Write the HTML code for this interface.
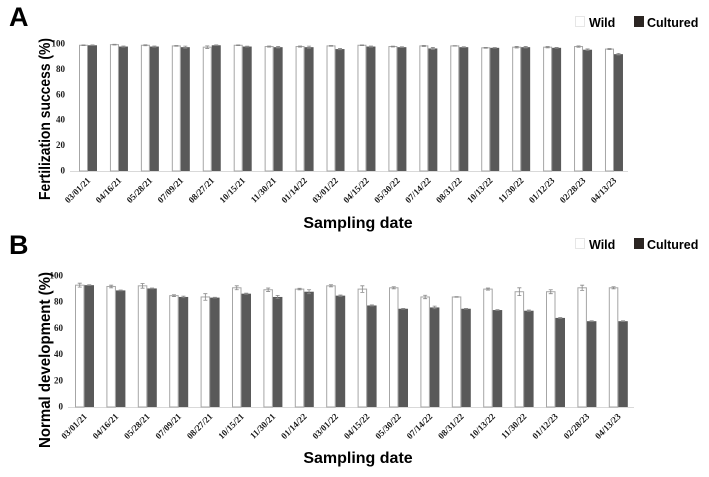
<!DOCTYPE html>
<html><head><meta charset="utf-8"><style>
body{margin:0;background:#fff;}
svg{display:block;}
.bt{font-family:"Liberation Sans",sans-serif;font-weight:bold;fill:#000;}
.tk{font-family:"Liberation Serif",serif;font-weight:bold;font-size:9px;fill:#1a1a1a;}
</style></head><body>
<svg id="s" width="709" height="477" xmlns="http://www.w3.org/2000/svg"></svg>
<script>
const categories=["03/01/21","04/16/21","05/28/21","07/09/21","08/27/21","10/15/21","11/30/21","01/14/22","03/01/22","04/15/22","05/30/22","07/14/22","08/31/22","10/13/22","11/30/22","01/12/23","02/28/23","04/13/23"];
const yTicks=[0,20,40,60,80,100];
const fertWild=[99,99.5,99,98.5,97.5,99,98,98,98.5,99,98,98.5,98.5,97,97.5,97.5,98,96];
const fertCult=[99,98,98,97.5,99,98,97.5,97.5,96,98,97.5,96.5,97.5,97,97.5,97,95.5,92];
const fertWildErr=[0.3,0.3,0.4,0.3,1,0.3,0.4,0.4,0.3,0.3,0.3,0.4,0.2,0.3,0.6,0.5,0.5,0.4];
const fertCultErr=[0.3,0.4,0.4,0.8,0.3,0.3,0.6,0.8,0.5,0.4,0.3,0.8,0.3,0.2,0.6,0.3,0.6,0.6];
const devWild=[93,92,92.5,85,84,91,89.5,90,92.5,90,91,84,84,90,88,88,91,91];
const devCult=[93,89,90.5,84,83.5,86.5,84,88,85,77.5,75,76,75,74,73.5,68,65.5,65.5];
const devWildErr=[1.5,1,1.8,0.7,2.5,1.5,1.3,0.6,0.8,2.5,0.8,1.3,0.2,0.8,3,1.5,2,0.8];
const devCultErr=[0.3,0.3,0.3,0.6,0.3,0.4,1.2,1.5,0.5,0.4,0.3,1,0.3,0.3,0.5,0.3,0.3,0.3];
const NS="http://www.w3.org/2000/svg";
const svg=document.getElementById('s');
function mk(tag,attrs,parent,text){const e=document.createElementNS(NS,tag);for(const k in attrs)e.setAttribute(k,attrs[k]);if(text!==undefined)e.textContent=text;(parent||svg).appendChild(e);return e;}
function panel(o){
  const g=mk('g',{});
  
  
  const y=v=>o.y0-(o.y0-o.y100)*v/100;
  const xw=i=>o.x0+i*o.step;
  const bw=o.bw;
  const ax=mk('line',{x1:o.axL,x2:o.axR,y1:o.y0+0.5,y2:o.y0+0.5,stroke:'#d9d9d9','stroke-width':1},g);
  
  
  yTicks.forEach(t=>{
    const tl=mk('text',{x:o.axL-5,y:y(t)+2.5,'text-anchor':'end',class:'tk','font-size':7},g,String(t));
    
    
  });
  categories.forEach((c,i)=>{
    const x=xw(i);
    const wv=o.wild[i],cv=o.cult[i];
    const r1=mk('rect',{x:x+0.5,y:y(wv),width:bw-1,height:y(0)-y(wv),fill:'#fff',stroke:'#a6a6a6','stroke-width':1},g);
    
    
    const r2=mk('rect',{x:x+bw,y:y(cv),width:bw,height:y(0)-y(cv),fill:'#595959'},g);
    
    
    [[x+bw/2,wv,o.we[i]],[x+bw*1.5,cv,o.ce[i]]].forEach(([cx,v,e])=>{
      const eb=mk('path',{d:`M${cx},${y(v+e)}V${y(v-e)}M${cx-2},${y(v+e)}h4M${cx-2},${y(v-e)}h4`,stroke:'#888','stroke-width':0.8,fill:'none'},g);
      
      
    });
    const cx=x+bw+3;
    const lb=mk('text',{x:cx,y:o.y0+10,'text-anchor':'end',class:'tk',transform:`rotate(-45 ${cx} ${o.y0+10})`},g,c);
    
    
  });
  const yt=mk('text',{x:0,y:0,'text-anchor':'middle',class:'bt','font-size':16,textLength:o.ylen,lengthAdjust:'spacingAndGlyphs',transform:`translate(${o.ytx},${o.yty}) rotate(-90)`},g,o.ytitle);
  
  
  const xt=mk('text',{x:358,y:o.xty,'text-anchor':'middle',class:'bt','font-size':16},g,'Sampling date');
  
  
  const pl=mk('text',{x:9,y:o.ply,class:'bt','font-size':27},g,o.letter);
  
  
  const lg=mk('g',{},g);
  
  
  const s1=mk('rect',{x:575.5,y:o.ly-10.5,width:9,height:10,fill:'#fff',stroke:'#e6e6e6'},lg);
  
  
  const t1=mk('text',{x:589,y:o.ly,class:'bt','font-size':12.5},lg,'Wild');
  
  
  const s2=mk('rect',{x:634,y:o.ly-11,width:10,height:11,fill:'#2b2522'},lg);
  
  
  const t2=mk('text',{x:647,y:o.ly,class:'bt','font-size':12.5},lg,'Cultured');
  
  
}
panel({name:'chart-fertilization',letter:'A',ply:26,y0:171,y100:44,x0:79,step:30.94,bw:9,axL:70,axR:628,wild:fertWild,cult:fertCult,we:fertWildErr,ce:fertCultErr,ytitle:'Fertilization success (%)',ytx:50,yty:119,ylen:162,xty:228,ly:27});
panel({name:'chart-development',letter:'B',ply:254,y0:407,y100:276,x0:75,step:31.4,bw:9.5,axL:68,axR:634,wild:devWild,cult:devCult,we:devWildErr,ce:devCultErr,ytitle:'Normal development (%)',ytx:50,yty:360,ylen:176,xty:463,ly:249});
</script>
</body></html>
